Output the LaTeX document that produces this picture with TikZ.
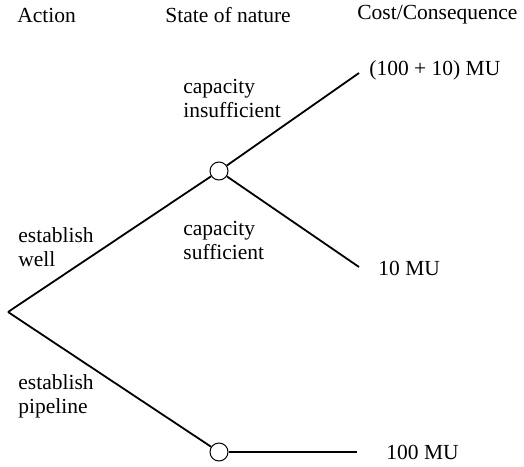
\documentclass[tikz,border=0pt]{standalone}
\usepackage{fontspec}
\setmainfont{Liberation Serif}
\usepackage{tikz}
\usetikzlibrary{positioning}

\begin{document}
\begin{tikzpicture}[x=0.5pt,y=-0.5pt,font=\fontsize{10.75}{12}\selectfont,
    every node/.style={inner sep=0pt,align=left},
    chance/.style={draw,circle,fill=white,line width=0.5pt,minimum size=9pt},
    branch/.style={line width=0.9pt},
    lbl/.style={anchor=west}]
    \useasboundingbox (0,0) rectangle (524,466);
    % column heads
    \node[lbl] (hact) at (17,15) {Action};
    \node[lbl] (hsta) at (165,15) {State of nature};
    \node[lbl] (hcos) at (357,15) {Cost/Consequence};
    % tree
    \coordinate (root) at (8,312);
    \node[chance] (well) at (219,171) {};
    \node[chance] (pipe) at (219,452) {};
    \coordinate (insuf) at (359,73);
    \coordinate (suff) at (359,267);
    \coordinate (pend) at (357,452);
    \draw[branch] (root)--(well);
    \draw[branch] (root)--(pipe);
    \draw[branch] (well)--(insuf);
    \draw[branch] (well)--(suff);
    \draw[branch] (pipe)--(pend);
    % branch labels
    \node[lbl] (lwell) at (18,247) {establish\\well};
    \node[lbl] (lpipe) at (18,396) {establish\\pipeline};
    \node[lbl] (linsuf) at (183,98) {capacity\\insufficient};
    \node[lbl] (lsuff) at (183,240) {capacity\\sufficient};
    % consequences
    \node[lbl] (cinsuf) at (369,70) {(100 + 10) MU};
    \node[lbl] (csuff) at (378,268) {10 MU};
    \node[lbl] (cpipe) at (386,452) {100 MU};
\end{tikzpicture}
\end{document}
